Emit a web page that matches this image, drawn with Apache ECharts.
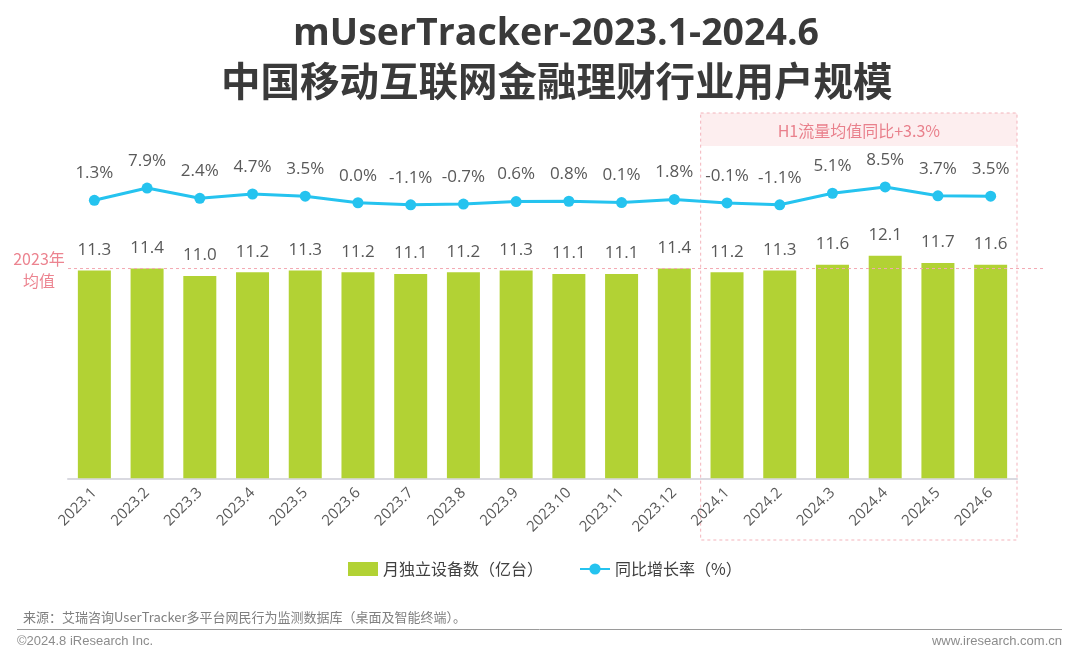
<!DOCTYPE html>
<html>
<head>
<meta charset="utf-8">
<script src="https://cdn.jsdelivr.net/npm/echarts@6/dist/echarts.min.js"></script>
<style>
html,body{margin:0;padding:0;background:#fff;}
#c{width:1080px;height:657px;}
</style>
</head>
<body>
<div id="c"></div>
<script>
const months = ['2023.1','2023.2','2023.3','2023.4','2023.5','2023.6','2023.7','2023.8','2023.9','2023.10','2023.11','2023.12','2024.1','2024.2','2024.3','2024.4','2024.5','2024.6'];
const users = [11.3,11.4,11.0,11.2,11.3,11.2,11.1,11.2,11.3,11.1,11.1,11.4,11.2,11.3,11.6,12.1,11.7,11.6];
const yoy = [1.3,7.9,2.4,4.7,3.5,0.0,-1.1,-0.7,0.6,0.8,0.1,1.8,-0.1,-1.1,5.1,8.5,3.7,3.5];
const avg2023 = 11.4;
const highlightStart = '2024.1';
const highlightEnd = '2024.6';
const seriesNames = ['月独立设备数（亿台）','同比增长率（%）'];
const titleLines = ['mUserTracker-2023.1-2024.6','中国移动互联网金融理财行业用户规模'];
const boxText = 'H1流量均值同比+3.3%';
const avgText = '2023年\n均值';
const sourceText = '来源：艾瑞咨询UserTracker多平台网民行为监测数据库（桌面及智能终端）。';
const copyText = '©2024.8 iResearch Inc.';
const siteText = 'www.iresearch.com.cn';

const FONT = '"Noto Sans CJK SC","Noto Sans",sans-serif';
const NUMFONT = '"Open Sans","Noto Sans CJK SC",sans-serif';
const chart = echarts.init(document.getElementById('c'), null, {renderer:'canvas'});
const option = {
  backgroundColor:'#ffffff',
  animation:false,
  textStyle:{fontFamily:FONT},
  title:[
    {text:titleLines[0], left:293, top:16, padding:0, textStyle:{fontSize:37.5, fontWeight:'bold', color:'#3a3a3a', fontFamily:NUMFONT}},
    {text:titleLines[1], left:221, top:61, padding:0, textStyle:{fontSize:39.5, fontWeight:'bold', color:'#3a3a3a', fontFamily:FONT}}
  ],
  legend:{
    top:556, left:343, itemWidth:30, itemHeight:14, itemGap:36,
    textStyle:{fontSize:16, color:'#404040', fontFamily:FONT},
    data:[{name:seriesNames[0], icon:'rect'}, {name:seriesNames[1]}]
  },
  grid:{left:68, right:63, top:165.5, bottom:178.7, containLabel:false, outerBoundsMode:'none'},
  xAxis:{
    type:'category', data:months,
    axisLine:{lineStyle:{color:'#d9d9e0', width:2}},
    axisTick:{show:false},
    axisLabel:{interval:0, rotate:45, fontSize:15, color:'#595959', margin:12, fontFamily:NUMFONT}
  },
  yAxis:[
    {type:'value', min:0, max:17, show:false, splitLine:{show:false}},
    {type:'value', min:-148, max:20, show:false, splitLine:{show:false}}
  ],
  series:[
    {
      name:seriesNames[0], type:'bar', data:users, barWidth:33, yAxisIndex:0,
      itemStyle:{color:'#b2d234'},
      label:{show:true, position:'top', distance:12, fontSize:17, color:'#595959', fontFamily:NUMFONT,
        formatter:p=>p.value.toFixed(1)}
    },
    {
      name:seriesNames[1], type:'line', data:yoy, yAxisIndex:1, z:5,
      symbol:'circle', symbolSize:11,
      lineStyle:{color:'#25c3ef', width:3},
      itemStyle:{color:'#25c3ef'},
      label:{show:true, position:'top', distance:13, fontSize:17, color:'#595959', fontFamily:NUMFONT,
        formatter:p=>p.value.toFixed(1)+'%'}
    }
  ]
};
chart.setOption(option);

const xs = chart.convertToPixel({xAxisIndex:0}, highlightStart);
const xs2 = chart.convertToPixel({xAxisIndex:0}, months[months.indexOf(highlightStart)+1]);
const xe = chart.convertToPixel({xAxisIndex:0}, highlightEnd);
const band = xs2 - xs;
const bx0 = xs - band/2, bx1 = xe + band/2;
const yAvg = chart.convertToPixel({yAxisIndex:0}, avg2023);
const boxTop = 113, boxBottom = 540, headH = 33;

chart.setOption({
  graphic:[
    {type:'rect', z:-1, shape:{x:bx0, y:boxTop, width:bx1-bx0, height:headH}, style:{fill:'#fdeeef'}},
    {type:'rect', z:0, shape:{x:bx0, y:boxTop, width:bx1-bx0, height:boxBottom-boxTop},
      style:{fill:'none', stroke:'#f3b3bb', lineWidth:1, lineDash:[3,3]}},
    {type:'text', z:2, x:(bx0+bx1)/2, y:boxTop+headH/2+1,
      style:{text:boxText, fill:'#e9808c', fontSize:16, fontFamily:FONT, align:'center', verticalAlign:'middle'}},
    {type:'line', z:3, shape:{x1:68, y1:yAvg, x2:1043, y2:yAvg},
      style:{stroke:'#f3a9b2', lineWidth:1, lineDash:[3,3]}},
    {type:'text', z:3, x:39, y:yAvg+1,
      style:{text:avgText, fill:'#ec8490', fontSize:16, lineHeight:22, fontFamily:FONT, align:'center', verticalAlign:'middle'}},
    {type:'text', x:23, y:617,
      style:{text:sourceText, fill:'#7f7f7f', fontSize:13, fontFamily:FONT, align:'left', verticalAlign:'middle'}},
    {type:'line', shape:{x1:17, y1:629.5, x2:1062, y2:629.5}, style:{stroke:'#9a9a9a', lineWidth:1}},
    {type:'text', x:17, y:641,
      style:{text:copyText, fill:'#8c8c8c', fontSize:13, fontFamily:'"Liberation Sans",Arial,sans-serif', align:'left', verticalAlign:'middle'}},
    {type:'text', x:1062, y:641,
      style:{text:siteText, fill:'#8c8c8c', fontSize:13, fontFamily:'"Liberation Sans",Arial,sans-serif', align:'right', verticalAlign:'middle'}}
  ]
});
</script>
</body>
</html>
